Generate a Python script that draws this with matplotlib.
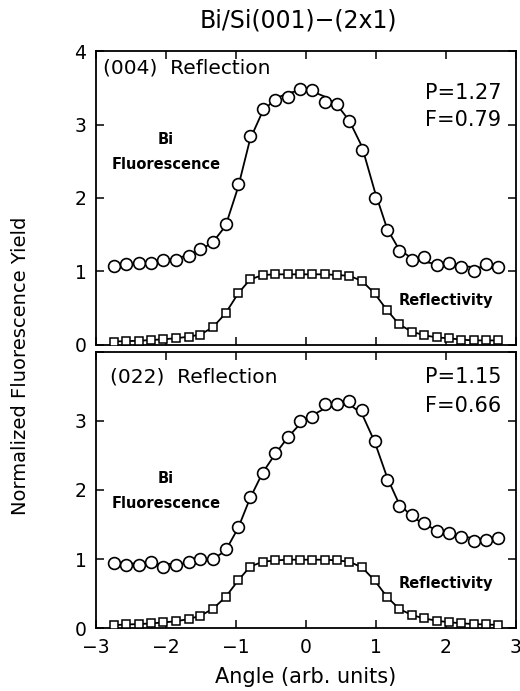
import matplotlib
matplotlib.use("Agg")
import matplotlib.pyplot as plt

# angle positions of the measured points (same for both reflections)
angle = [-2.75, -2.57, -2.39, -2.22, -2.04, -1.86, -1.68, -1.51, -1.33, -1.15,
         -0.97, -0.80, -0.62, -0.44, -0.26, -0.09, 0.09, 0.27, 0.45, 0.62,
         0.80, 0.98, 1.16, 1.33, 1.51, 1.69, 1.87, 2.04, 2.22, 2.40, 2.58, 2.75]

# (004) reflection
fluor_004 = [1.07, 1.10, 1.12, 1.12, 1.15, 1.16, 1.21, 1.30, 1.40, 1.65,
             2.19, 2.84, 3.21, 3.34, 3.37, 3.49, 3.47, 3.31, 3.28, 3.05,
             2.65, 2.00, 1.56, 1.28, 1.15, 1.19, 1.09, 1.12, 1.06, 1.00,
             1.10, 1.06]
fluor_fit_004 = [1.07, 1.09, 1.11, 1.13, 1.15, 1.18, 1.22, 1.29, 1.40, 1.62,
                 2.15, 2.80, 3.18, 3.35, 3.43, 3.46, 3.45, 3.38, 3.26, 3.05,
                 2.70, 2.10, 1.58, 1.30, 1.18, 1.13, 1.10, 1.08, 1.07, 1.06,
                 1.05, 1.05]
refl_004 = [0.045, 0.05, 0.055, 0.065, 0.075, 0.09, 0.11, 0.14, 0.24, 0.43,
            0.70, 0.89, 0.95, 0.96, 0.96, 0.96, 0.96, 0.96, 0.95, 0.94,
            0.87, 0.70, 0.47, 0.28, 0.18, 0.13, 0.10, 0.09, 0.07, 0.06,
            0.06, 0.06]

# (022) reflection
fluor_022 = [0.94, 0.92, 0.91, 0.95, 0.89, 0.92, 0.95, 1.00, 1.00, 1.14,
             1.46, 1.90, 2.25, 2.53, 2.76, 3.00, 3.05, 3.25, 3.25, 3.29,
             3.15, 2.71, 2.15, 1.77, 1.64, 1.52, 1.40, 1.38, 1.32, 1.26,
             1.28, 1.31]
fluor_fit_022 = [0.94, 0.94, 0.93, 0.93, 0.93, 0.93, 0.94, 0.96, 1.00, 1.12,
                 1.45, 1.88, 2.25, 2.52, 2.76, 2.95, 3.08, 3.18, 3.23, 3.24,
                 3.10, 2.70, 2.18, 1.80, 1.62, 1.50, 1.42, 1.37, 1.33, 1.30,
                 1.29, 1.30]
refl_022 = [0.043, 0.053, 0.058, 0.068, 0.082, 0.10, 0.13, 0.18, 0.28, 0.45,
            0.69, 0.89, 0.96, 0.98, 0.99, 0.99, 0.99, 0.99, 0.98, 0.96,
            0.88, 0.69, 0.45, 0.28, 0.19, 0.14, 0.107, 0.085, 0.07, 0.058,
            0.053, 0.045]

panels = [
    ("(004)  Reflection", "P=1.27", "F=0.79", fluor_004, fluor_fit_004, refl_004),
    ("(022)  Reflection", "P=1.15", "F=0.66", fluor_022, fluor_fit_022, refl_022),
]

plt.rcParams['font.family'] = ['DejaVu Sans']

fig = plt.figure(figsize=(5.2, 6.91), dpi=100)
ax_top = fig.add_axes([0.185, 0.501, 0.807, 0.425])
ax_bot = fig.add_axes([0.185, 0.091, 0.807, 0.400])

# label positions in data units: (name x, name y, P y, F y, Bi y, Fluor y, Refl y)
label_pos = [(-2.90, 3.77, 3.43, 3.06, 2.80, 2.46, 0.61),
             (-2.80, 3.64, 3.64, 3.22, 2.16, 1.81, 0.64)]

for ax, (name, ptxt, ftxt, fl, flfit, rf), lp in zip([ax_top, ax_bot], panels, label_pos):
    ax.plot(angle, flfit, color='black', lw=1.3, zorder=2)
    ax.plot(angle, fl, 'o', mfc='white', mec='black', mew=1.2, ms=8.5, zorder=3)
    ax.plot(angle, rf, color='black', lw=1.3, zorder=2)
    ax.plot(angle, rf, 's', mfc='white', mec='black', mew=1.1, ms=6, zorder=3)
    ax.set_xlim(-3, 3)
    ax.set_ylim(0, 4)
    ax.set_xticks([-3, -2, -1, 0, 1, 2, 3])
    ax.set_yticks([0, 1, 2, 3, 4])
    ax.tick_params(direction='in', top=True, right=True, length=6, width=1.1,
                   labelsize=13.5, pad=7)
    for s in ax.spines.values():
        s.set_linewidth(1.3)
    ax.text(lp[0], lp[1], name, fontsize=14.5, ha='left', va='center')
    ax.text(2.79, lp[2], ptxt, fontsize=15, ha='right', va='center')
    ax.text(2.79, lp[3], ftxt, fontsize=15, ha='right', va='center')
    ax.text(-2.0, lp[4], "Bi", fontsize=10.5, ha='center', va='center',
            fontweight='bold')
    ax.text(-2.0, lp[5], "Fluorescence", fontsize=10.5, ha='center', va='center',
            fontweight='bold')
    ax.text(2.0, lp[6], "Reflectivity", fontsize=10.5, ha='center', va='center',
            fontweight='bold')

ax_top.tick_params(labelbottom=False)
ax_bot.set_yticklabels(['0', '1', '2', '3', ''])
ax_bot.set_xticklabels(['\u22123', '\u22122', '\u22121', '0', '1', '2', '3'])

fig.text(0.573, 0.971, "Bi/Si(001)\u2212(2x1)", fontsize=17, ha='center', va='center')
fig.text(0.04, 0.47, "Normalized Fluorescence Yield", fontsize=14, rotation=90,
         ha='center', va='center')
ax_bot.set_xlabel("Angle (arb. units)", fontsize=15, labelpad=7)

fig.savefig("out.png", dpi=100)
